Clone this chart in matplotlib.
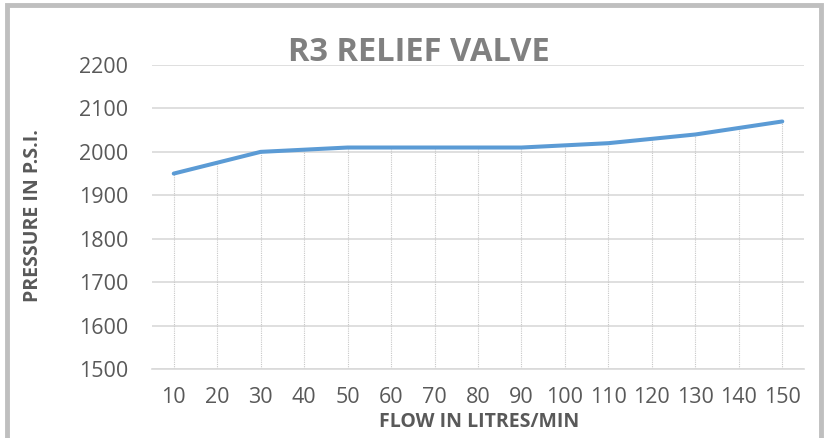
import matplotlib
matplotlib.use("Agg")
import matplotlib.pyplot as plt
from matplotlib.patches import Rectangle

# flow (litres/min) vs relief pressure (psi)
flow = [10, 20, 30, 40, 50, 60, 70, 80, 90, 100, 110, 120, 130, 140, 150]
pressure = [1950, 1975, 2000, 2005, 2010, 2010, 2010, 2010, 2010, 2015, 2020, 2030, 2040, 2055, 2070]
y_ticks = [1500, 1600, 1700, 1800, 1900, 2000, 2100, 2200]

line_blue = "#5b9bd5"
text_grey = "#595959"

fig = plt.figure(figsize=(8.27, 4.38), dpi=100)
ax = fig.add_axes([0.1838, 0.1575, 0.7884, 0.6941])

# category axis: positions 0..n-1
pos = list(range(len(flow)))
ax.plot(pos, pressure, color=line_blue, linewidth=2.9, solid_capstyle="round", zorder=3)

# drop lines from each point to the bottom
ax.vlines(pos, y_ticks[0], pressure, colors="#c8c8c8", linestyles=(0, (1, 1)), linewidth=0.8, zorder=2)

ax.set_xlim(-0.5, len(flow) - 0.5)
ax.set_ylim(y_ticks[0], y_ticks[-1])
ax.set_xticks(pos)
ax.set_xticklabels([str(f) for f in flow])
ax.set_yticks(y_ticks)

ax.yaxis.grid(True, color="#d9d9d9", linewidth=1.2)
ax.set_axisbelow(True)
for s in ["top", "right", "left"]:
    ax.spines[s].set_visible(False)
ax.spines["bottom"].set_color("#d9d9d9")
ax.spines["bottom"].set_linewidth(1.2)

ax.tick_params(axis="both", length=0, labelsize=15.5, labelcolor=text_grey)
ax.tick_params(axis="x", pad=13)
ax.tick_params(axis="y", pad=17)
for lab in ax.get_xticklabels() + ax.get_yticklabels():
    lab.set_family("Open Sans")

fig.text(0.507, 0.880, "R3 RELIEF VALVE", ha="center", va="center", fontsize=23.5,
         fontweight="bold", color="#808080", family="Open Sans")
fig.text(0.579, 0.037, "FLOW IN LITRES/MIN", ha="center", va="center", fontsize=14,
         fontweight="bold", color=text_grey, family="Open Sans")
fig.text(0.040, 0.507, "PRESSURE IN P.S.I.", ha="center", va="center", rotation=90,
         fontsize=14, fontweight="bold", color=text_grey, family="Open Sans")

# grey chart frame on left, top, right
fig.add_artist(Rectangle((0.0085, -0.02), 0.9845, 1.008, transform=fig.transFigure,
                         fill=False, edgecolor="#bfbfbf", linewidth=3.5))

fig.savefig("out.png", dpi=100)
